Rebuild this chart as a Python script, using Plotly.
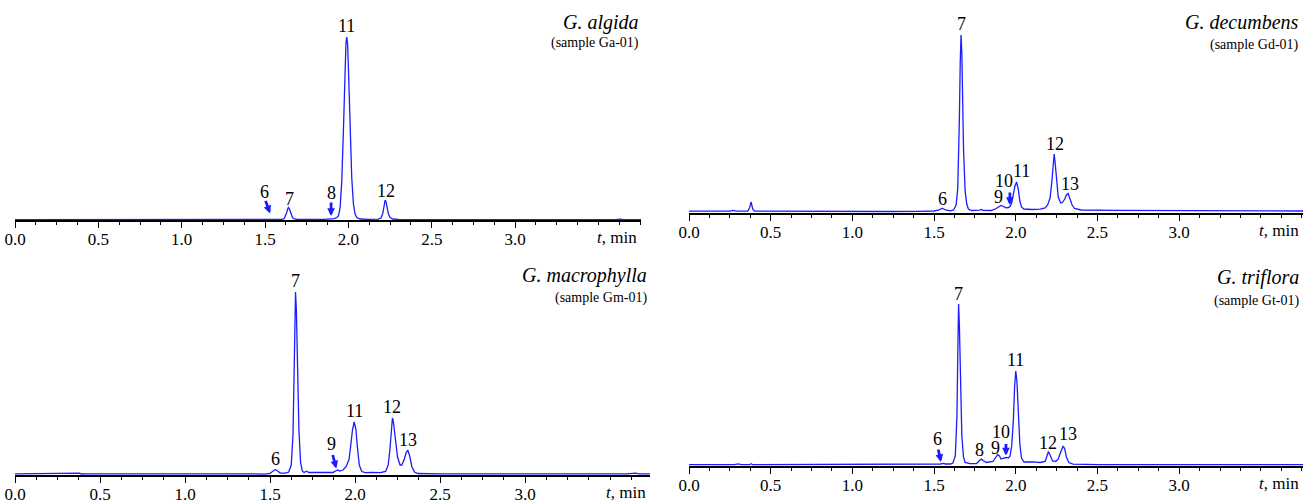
import plotly.graph_objects as go

W, H = 1303, 503

# ---------------- data: chromatograms (t in min, intensity in a.u.) ----------------
algida = [(0.00, 0.3), (0.18, 0.3), (0.22, 0.8), (0.40, 0.8), (0.43, 0.3), (1.45, 0.3), (1.50, 0.5),
          (1.53, 0.9), (1.56, 0.5), (1.60, 0.5), (1.615, 1.5), (1.625, 4.5), (1.63, 7.5), (1.635, 10.8),
          (1.64, 12.5), (1.645, 11.5), (1.65, 8.5), (1.655, 5.5), (1.665, 2.2), (1.68, 0.8), (1.70, 0.5),
          (1.85, 0.6), (1.88, 1.2), (1.90, 1.6), (1.915, 1.3), (1.93, 2.5), (1.94, 4), (1.95, 12),
          (1.96, 38), (1.97, 90), (1.98, 155), (1.985, 176), (1.99, 183), (1.995, 176), (2.00, 152),
          (2.01, 92), (2.02, 42), (2.03, 16), (2.04, 6), (2.05, 2.5), (2.07, 1), (2.12, 0.7), (2.18, 0.8),
          (2.195, 2), (2.205, 6), (2.21, 10), (2.215, 16), (2.22, 20), (2.225, 18.5), (2.23, 13.5),
          (2.24, 6), (2.25, 2.5), (2.265, 1), (2.30, 0.5), (2.50, 0.4), (3.60, 0.3), (3.63, 0.9),
          (3.65, 0.3), (3.755, 0.3)]

decumbens = [(0.00, 1.8), (0.25, 1.8), (0.27, 2.6), (0.29, 1.9), (0.36, 1.9), (0.37, 5), (0.38, 11),
             (0.39, 4), (0.40, 1.8), (0.60, 1.6), (1.20, 1.5), (1.40, 1.6), (1.50, 2.0), (1.53, 3.0),
             (1.55, 4.8), (1.57, 3.0), (1.60, 2.2), (1.62, 3), (1.635, 8), (1.645, 25), (1.65, 50),
             (1.655, 95), (1.66, 150), (1.665, 178), (1.67, 160), (1.675, 115), (1.68, 65), (1.69, 22),
             (1.70, 9), (1.71, 4), (1.73, 2.5), (1.78, 2.8), (1.79, 3.5), (1.80, 2.6), (1.85, 2.5),
             (1.88, 4.5), (1.90, 7.0), (1.91, 7.6), (1.925, 6.5), (1.94, 5.2), (1.955, 5.5), (1.965, 6.5),
             (1.975, 10), (1.985, 18), (1.995, 27), (2.005, 31), (2.015, 24), (2.025, 12), (2.035, 6),
             (2.05, 4), (2.10, 3.5), (2.15, 3.8), (2.18, 5), (2.195, 8), (2.21, 15), (2.22, 30),
             (2.23, 52), (2.235, 59), (2.24, 52), (2.25, 30), (2.26, 16), (2.275, 10), (2.285, 10.5),
             (2.30, 14), (2.31, 18), (2.32, 19.5), (2.33, 15), (2.345, 8), (2.36, 4.5), (2.40, 3),
             (2.60, 2.6), (3.00, 2.6), (3.40, 2.4), (3.76, 2.0)]

macrophylla = [(0.00, 1.2), (0.37, 1.2), (0.38, 1.8), (0.39, 1.0), (0.42, 1.2), (1.40, 1.2), (1.47, 0.8),
               (1.50, 1.5), (1.52, 4), (1.53, 5.5), (1.545, 4), (1.56, 2), (1.59, 1.8), (1.61, 3),
               (1.625, 10), (1.635, 40), (1.64, 85), (1.645, 150), (1.65, 183), (1.655, 165), (1.66, 115),
               (1.67, 45), (1.68, 12), (1.69, 4), (1.70, 2.5), (1.715, 3.8), (1.73, 2.5), (1.80, 2.3),
               (1.87, 2.5), (1.89, 4.5), (1.90, 5), (1.91, 4), (1.93, 5), (1.95, 9), (1.965, 16),
               (1.975, 30), (1.985, 45), (1.995, 53), (2.005, 46), (2.015, 26), (2.025, 10), (2.04, 3.5),
               (2.06, 2.3), (2.10, 2.6), (2.15, 2.3), (2.18, 3.5), (2.195, 10), (2.205, 25), (2.21, 40),
               (2.215, 52), (2.22, 57), (2.225, 54), (2.235, 38), (2.25, 18), (2.265, 10), (2.275, 10),
               (2.29, 16), (2.30, 22), (2.31, 25), (2.32, 20), (2.335, 8), (2.35, 3), (2.37, 1.5),
               (2.50, 1.2), (3.60, 1.2), (3.65, 1.8), (3.67, 1.2), (3.74, 1.2)]

triflora = [(0.00, 1.3), (0.28, 1.3), (0.30, 2.2), (0.32, 1.3), (0.37, 1.3), (0.38, 2.3), (0.39, 1.3),
            (1.50, 1.3), (1.54, 2), (1.555, 2.6), (1.57, 2), (1.60, 2), (1.615, 3), (1.63, 10),
            (1.64, 50), (1.645, 110), (1.65, 162), (1.655, 140), (1.66, 95), (1.67, 30), (1.68, 9),
            (1.69, 3.5), (1.72, 2.3), (1.76, 2.5), (1.775, 5), (1.79, 7), (1.80, 5.5), (1.82, 3.5),
            (1.86, 4.5), (1.88, 9), (1.89, 11.5), (1.90, 10), (1.91, 7), (1.93, 8), (1.945, 8.5),
            (1.955, 8), (1.965, 10), (1.975, 20), (1.985, 45), (1.993, 80), (2.00, 95), (2.007, 85),
            (2.015, 55), (2.025, 22), (2.035, 8), (2.05, 4), (2.10, 4.2), (2.15, 3.5), (2.18, 4.5),
            (2.19, 9), (2.20, 14.5), (2.21, 11), (2.225, 5), (2.245, 4.5), (2.26, 7), (2.275, 14),
            (2.29, 20), (2.30, 17), (2.31, 9), (2.325, 3.5), (2.35, 1.8), (2.50, 1.4), (3.76, 1.3)]

# peak labels: (text, t, intensity)
algida_labels = [("6", 1.494, 28), ("7", 1.644, 21), ("8", 1.896, 27), ("11", 1.986, 194),
                 ("12", 2.226, 29)]
decumbens_labels = [("6", 1.554, 14), ("7", 1.665, 189), ("9", 1.897, 16), ("10", 1.925, 32),
                    ("11", 2.032, 42), ("12", 2.24, 69), ("13", 2.33, 29)]
macrophylla_labels = [("6", 1.53, 16), ("7", 1.647, 194), ("9", 1.859, 31), ("11", 1.994, 64),
                      ("12", 2.218, 68), ("13", 2.312, 35)]
triflora_labels = [("6", 1.518, 27), ("7", 1.652, 172), ("8", 1.781, 16), ("9", 1.873, 18),
                   ("10", 1.909, 34), ("11", 2.001, 106), ("12", 2.197, 23), ("13", 2.32, 32)]

# arrow tips pointing at minor peaks: (t, intensity)
algida_arrows = [(1.53, 6.6), (1.896, 4)]
decumbens_arrows = [(1.964, 8)]
macrophylla_arrows = [(1.89, 6.5)]
triflora_arrows = [(1.542, 4), (1.94, 10.5)]

species = ["G. algida", "G. decumbens", "G. macrophylla", "G. triflora"]
samples = ["(sample Ga-01)", "(sample Gd-01)", "(sample Gm-01)", "(sample Gt-01)"]
tick_values = [0.0, 0.5, 1.0, 1.5, 2.0, 2.5, 3.0]

# ---------------- layout geometry (pixels) ----------------
panels = [
    dict(data=algida, labels=algida_labels, arrows=algida_arrows, xr=3.755,
         px=(15, 641), py=(220, 20), tr=641, ty=(22, 43), arrow_off=[(-5, -14), (0, -15)]),
    dict(data=decumbens, labels=decumbens_labels, arrows=decumbens_arrows, xr=3.758,
         px=(689, 1303), py=(213, 13), tr=1301, ty=(22, 45), arrow_off=[(0, -14)]),
    dict(data=macrophylla, labels=macrophylla_labels, arrows=macrophylla_arrows, xr=3.735,
         px=(15, 650), py=(475, 275), tr=649, ty=(275, 298), arrow_off=[(-4, -15)]),
    dict(data=triflora, labels=triflora_labels, arrows=triflora_arrows, xr=3.758,
         px=(689, 1303), py=(466, 266), tr=1301, ty=(277, 301), arrow_off=[(-3, -14), (0, -13)]),
]

FONT = "Liberation Serif, Times New Roman, serif"
BLUE = "#1c1cff"

fig = go.Figure()
layout = dict(width=W, height=H, margin=dict(l=0, r=0, t=0, b=0, pad=0), showlegend=False,
              template="none", autosize=False,
              paper_bgcolor="white", plot_bgcolor="white", font=dict(family=FONT, color="black"))
annotations = []

minor_vals = [i * 0.125 for i in range(0, 31)]
major_vals = [i * 0.25 for i in range(0, 16)]

for i, p in enumerate(panels):
    n = "" if i == 0 else str(i + 1)
    xa, ya = "xaxis" + n, "yaxis" + n
    xs, ys = "x" + n, "y" + n
    t = [d[0] for d in p["data"]]
    v = [d[1] for d in p["data"]]
    fig.add_trace(go.Scatter(x=t, y=v, mode="lines", line=dict(color=BLUE, width=1.3),
                             xaxis=xs, yaxis=ys, hoverinfo="skip"))
    x0, x1 = p["px"]
    yb, yt = p["py"]
    ticktext = [("%.1f" % tv) if any(abs(tv - k) < 1e-9 for k in tick_values) else "" for tv in major_vals]
    layout[xa] = dict(domain=[x0 / W, x1 / W], range=[0, p["xr"]], anchor=ys, automargin=False,
                      showline=True, linecolor="black", linewidth=1.5, showgrid=False, zeroline=False,
                      ticks="outside", ticklen=6, tickwidth=1.2, tickcolor="black",
                      tickmode="array", tickvals=major_vals, ticktext=ticktext,
                      ticklabelstandoff=-3,
                      tickfont=dict(family=FONT, size=17, color="black"),
                      minor=dict(ticks="outside", ticklen=3.5, tickwidth=1, tickcolor="black",
                                 tickmode="array", tickvals=minor_vals, showgrid=False))
    layout[ya] = dict(domain=[1 - yb / H, 1 - yt / H], range=[0, 200], anchor=xs, visible=False,
                      automargin=False, showgrid=False, zeroline=False)
    for (txt, tt, yy) in p["labels"]:
        annotations.append(dict(x=tt, y=yy, xref=xs, yref=ys, text=txt, showarrow=False,
                                font=dict(family=FONT, size=18, color="black"),
                                xanchor="center", yanchor="middle"))
    for (tt, yy), (ax, ay) in zip(p["arrows"], p["arrow_off"]):
        annotations.append(dict(x=tt, y=yy, xref=xs, yref=ys, text="", showarrow=True,
                                ax=ax, ay=ay, arrowhead=2, arrowsize=0.55, arrowwidth=2.8,
                                arrowcolor=BLUE, standoff=0, startstandoff=0))
    annotations.append(dict(x=p["tr"] / W, y=1 - p["ty"][0] / H, xref="paper", yref="paper",
                            text="<i>" + species[i] + "</i>", showarrow=False, xanchor="right",
                            yanchor="middle", font=dict(family=FONT, size=20, color="black")))
    annotations.append(dict(x=p["tr"] / W, y=1 - p["ty"][1] / H, xref="paper", yref="paper",
                            text=samples[i], showarrow=False, xanchor="right",
                            yanchor="middle", font=dict(family=FONT, size=14, color="black")))
    annotations.append(dict(x=(x1 - 2) / W, y=1 - (yb + 17) / H, xref="paper", yref="paper",
                            text="<i>t</i>, min", showarrow=False, xanchor="right",
                            yanchor="middle", font=dict(family=FONT, size=17, color="black")))

layout["annotations"] = annotations
fig.update_layout(**layout)
fig.write_html("out.html", config={"displayModeBar": False},
               post_script="document.body.style.margin='0';document.body.style.overflow='hidden';")
